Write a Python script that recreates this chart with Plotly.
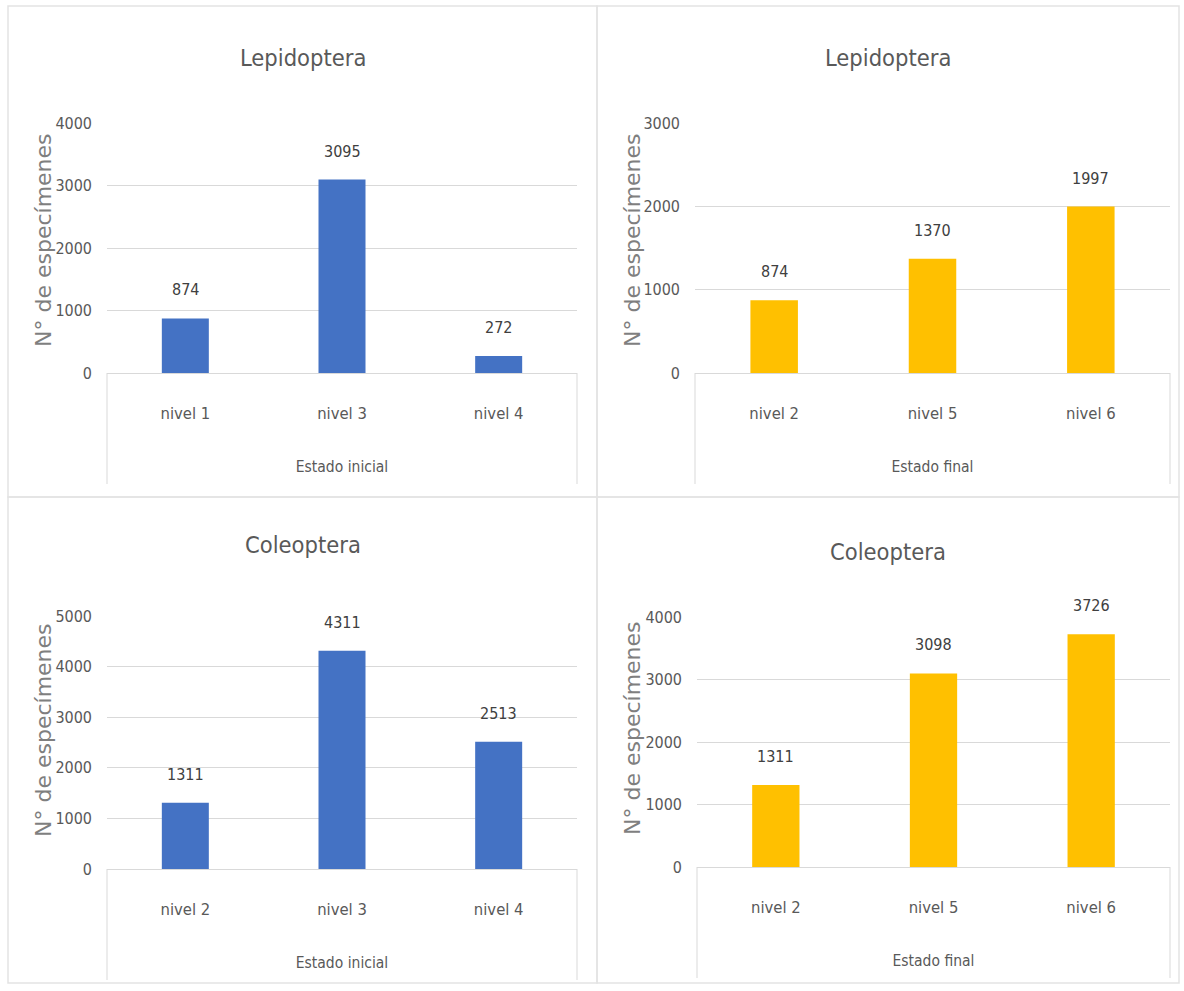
import plotly.graph_objects as go

W, H = 1184, 991

# Counts per level, four charts
lep_ini_cats = ["nivel 1", "nivel 3", "nivel 4"]
lep_ini_vals = [874, 3095, 272]
lep_fin_cats = ["nivel 2", "nivel 5", "nivel 6"]
lep_fin_vals = [874, 1370, 1997]
col_ini_cats = ["nivel 2", "nivel 3", "nivel 4"]
col_ini_vals = [1311, 4311, 2513]
col_fin_cats = ["nivel 2", "nivel 5", "nivel 6"]
col_fin_vals = [1311, 3098, 3726]

titles = ["Lepidoptera", "Lepidoptera", "Coleoptera", "Coleoptera"]
group_labels = ["Estado inicial", "Estado final", "Estado inicial", "Estado final"]
y_max = [4000, 3000, 5000, 4000]
y_title = "N° de especímenes"

BLUE = "#4472C4"
GOLD = "#FFC000"
GRID = "#d9d9d9"
TXT = "#595959"
NARROW = "Liberation Sans Narrow, Arial Narrow, DejaVu Sans Condensed, sans-serif"

series = [
    (lep_ini_cats, lep_ini_vals, BLUE),
    (lep_fin_cats, lep_fin_vals, GOLD),
    (col_ini_cats, col_ini_vals, BLUE),
    (col_fin_cats, col_fin_vals, GOLD),
]

# Pixel layout: panel frame (x0, y0, x1, y1) and plot area (x0, x1, ytop, ybottom)
frames = [(8, 6, 597, 497), (597, 6, 1179, 497), (8, 497, 597, 983), (597, 497, 1179, 983)]
areas = [(107, 577, 123, 373), (695, 1170, 123, 373), (107, 577, 616, 869), (697, 1170, 617, 867)]
title_y = [58, 58, 545, 552]
ytitle_pos = [(43, 240), (632, 240), (43, 730), (632, 728)]


def fx(p):
    return p / W


def fy(p):
    return 1 - p / H


fig = go.Figure()
layout = dict(
    width=W, height=H,
    margin=dict(l=0, r=0, t=0, b=0, autoexpand=False),
    paper_bgcolor="white", plot_bgcolor="white",
    showlegend=False,
    font=dict(family=NARROW, color=TXT),
)
annotations = []
shapes = []

for i, ((cats, vals, color), (ax0, ax1, ay0, ay1)) in enumerate(zip(series, areas)):
    n = "" if i == 0 else str(i + 1)
    xa, ya = f"x{n}", f"y{n}"
    fig.add_trace(go.Bar(
        x=cats, y=vals, marker=dict(color=color, line=dict(width=0)),
        width=0.3, xaxis=xa, yaxis=ya, hoverinfo="x+y",
    ))
    layout[f"xaxis{n}"] = dict(
        domain=[fx(ax0), fx(ax1)], anchor=ya, type="category",
        range=[-0.5, 2.5], showgrid=False, showline=True, linecolor=GRID,
        linewidth=1, ticks="", ticklabelstandoff=25, automargin=False,
        tickfont=dict(family=NARROW, size=16.5, color=TXT),
        title=dict(text=group_labels[i], standoff=39,
                   font=dict(family=NARROW, size=15.5, color=TXT)),
        fixedrange=True,
    )
    layout[f"yaxis{n}"] = dict(
        domain=[fy(ay1), fy(ay0)], anchor=xa, range=[0, y_max[i]],
        dtick=1000, showgrid=True, gridcolor=GRID, gridwidth=1,
        zeroline=False, showline=False, ticks="", ticklabelstandoff=14,
        automargin=False,
        tickfont=dict(family=NARROW, size=16, color=TXT),
        fixedrange=True,
    )
    # value labels above each bar
    for c, v in zip(cats, vals):
        annotations.append(dict(
            x=c, y=v, xref=xa, yref=ya, text=str(v), showarrow=False,
            yanchor="bottom", yshift=17,
            font=dict(family=NARROW, size=16, color="#404040"),
        ))
    # chart title
    fx0, fy0, fx1, fy1 = frames[i]
    annotations.append(dict(
        x=fx((fx0 + fx1) / 2), y=fy(title_y[i]), xref="paper", yref="paper",
        text=titles[i], showarrow=False, yanchor="middle", xanchor="center",
        font=dict(family=NARROW, size=23.5, color=TXT),
    ))
    # vertical value-axis title
    tx, ty = ytitle_pos[i]
    annotations.append(dict(
        x=fx(tx), y=fy(ty), xref="paper", yref="paper", text=y_title,
        textangle=-90, showarrow=False, xanchor="center", yanchor="middle",
        font=dict(family="DejaVu Sans", size=22, color="#7f7f7f"),
    ))
    # panel frame
    shapes.append(dict(type="rect", xref="paper", yref="paper",
                       x0=fx(fx0), x1=fx(fx1), y0=fy(fy0), y1=fy(fy1),
                       line=dict(color="#e3e3e3", width=1.5), layer="below"))
    # category box edges below the axis
    for xd in (0, 1):
        shapes.append(dict(type="line", xref=f"{xa} domain", yref="paper",
                           x0=xd, x1=xd, y0=fy(ay1), y1=fy(ay1 + 111),
                           line=dict(color=GRID, width=1)))

layout["annotations"] = annotations
layout["shapes"] = shapes
fig.update_layout(**layout)
fig.write_html("out.html")
